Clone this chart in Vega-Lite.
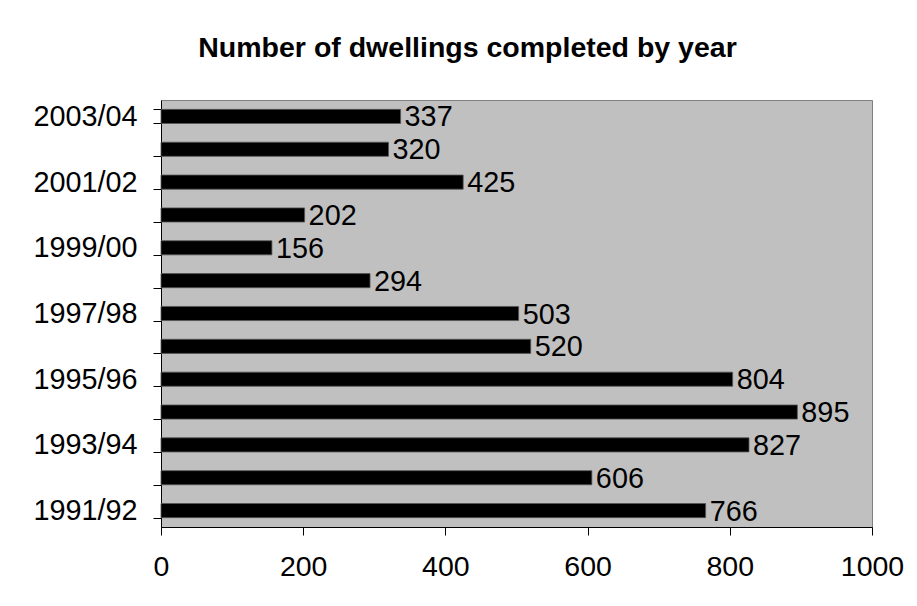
{
  "$schema": "https://vega.github.io/schema/vega-lite/v6.json",
  "width": 711,
  "height": 427,
  "autosize": {"type": "none"},
  "padding": {"left": 161, "top": 100, "right": 45, "bottom": 79},
  "background": "white",
  "title": {
    "text": "Number of dwellings completed by year",
    "font": "Liberation Sans",
    "fontSize": 28.5,
    "fontWeight": "bold",
    "color": "black",
    "anchor": "middle",
    "frame": "group",
    "baseline": "bottom",
    "offset": 37,
    "dx": -49,
    "dy": 42
  },
  "data": {
    "values": [
      {"year": "1991/92", "dwellings": 766},
      {"year": "1992/93", "dwellings": 606},
      {"year": "1993/94", "dwellings": 827},
      {"year": "1994/95", "dwellings": 895},
      {"year": "1995/96", "dwellings": 804},
      {"year": "1996/97", "dwellings": 520},
      {"year": "1997/98", "dwellings": 503},
      {"year": "1998/99", "dwellings": 294},
      {"year": "1999/00", "dwellings": 156},
      {"year": "2000/01", "dwellings": 202},
      {"year": "2001/02", "dwellings": 425},
      {"year": "2002/03", "dwellings": 320},
      {"year": "2003/04", "dwellings": 337}
    ]
  },
  "encoding": {
    "y": {
      "field": "year",
      "type": "nominal",
      "sort": "descending",
      "scale": {"paddingInner": 0.57, "paddingOuter": 0.285},
      "axis": {
        "title": null,
        "labelExpr": "indexof(['1991/92','1993/94','1995/96','1997/98','1999/00','2001/02','2003/04'], datum.value) >= 0 ? datum.value : ''",
        "tickBand": "extent",
        "tickSize": 8,
        "labelPadding": 16,
        "labelFont": "Liberation Sans",
        "labelFontSize": 28.8,
        "labelColor": "black",
        "domainColor": "black",
        "tickColor": "black",
        "grid": false
      }
    },
    "x": {
      "field": "dwellings",
      "type": "quantitative",
      "scale": {"domain": [0, 1000]},
      "axis": {
        "title": null,
        "values": [0, 200, 400, 600, 800, 1000],
        "format": "d",
        "tickSize": 8,
        "labelPadding": 17,
        "labelFont": "Liberation Sans",
        "labelFontSize": 28.5,
        "labelColor": "black",
        "domainColor": "black",
        "tickColor": "black",
        "grid": false,
        "labelFlush": false
      }
    }
  },
  "layer": [
    {
      "mark": {"type": "bar", "color": "black", "stroke": "#555555", "strokeWidth": 0.8}
    },
    {
      "mark": {
        "type": "text",
        "align": "left",
        "baseline": "middle",
        "dx": 4,
        "dy": 1,
        "font": "Liberation Sans",
        "fontSize": 28.8,
        "color": "black"
      },
      "encoding": {"text": {"field": "dwellings", "type": "quantitative"}}
    }
  ],
  "config": {
    "view": {"fill": "#c0c0c0", "stroke": "#808080", "strokeWidth": 1}
  }
}
